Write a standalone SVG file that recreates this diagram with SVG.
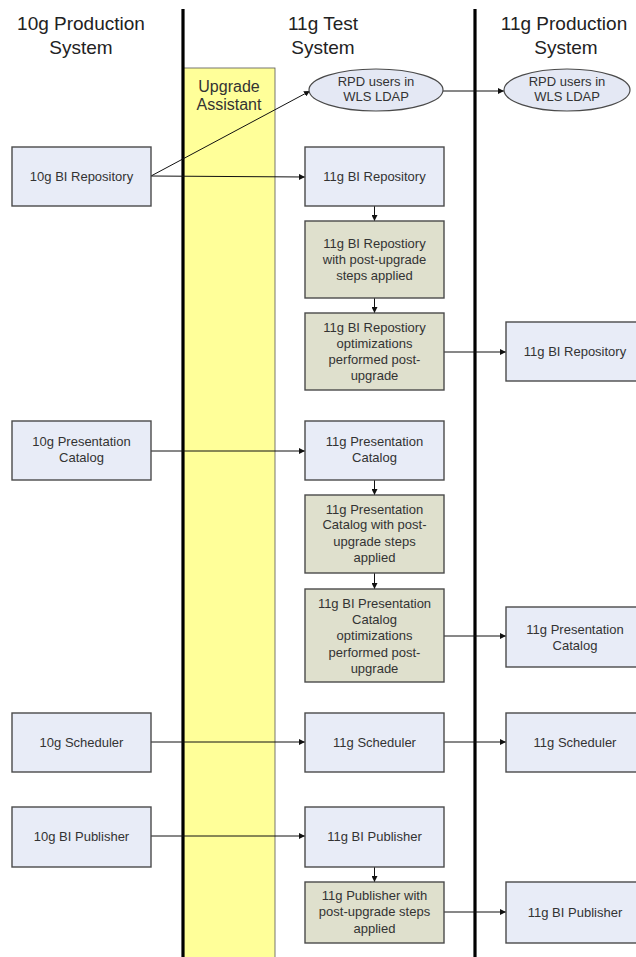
<svg xmlns="http://www.w3.org/2000/svg" width="636" height="957" viewBox="0 0 636 957">
<defs>
<style>
.hdr{font-family:"Liberation Sans",Arial,sans-serif;font-size:19px;fill:#222;text-anchor:middle}
.t{font-family:"Liberation Sans",Arial,sans-serif;font-size:13px;fill:#333;text-anchor:middle}
.ua{font-family:"Liberation Sans",Arial,sans-serif;font-size:16px;fill:#333;text-anchor:middle}
.blue{fill:#E8ECF7;stroke:#4a4a4a;stroke-width:1.4}
.green{fill:#DFE0CD;stroke:#4a4a4a;stroke-width:1.4}
.ell{fill:#E4E8F4;stroke:#4a4a4a;stroke-width:1.2}
.lane{stroke:#000;stroke-width:3.2}
.c{stroke:#111;stroke-width:1;fill:none;marker-end:url(#ah)}
</style>
<marker id="ah" viewBox="0 0 10 10" refX="10" refY="5" markerWidth="6" markerHeight="6" markerUnits="userSpaceOnUse" orient="auto">
<path d="M0,0 L10,5 L0,10 z" fill="#111"/>
</marker>
</defs>
<rect width="636" height="957" fill="#fff"/>

<g id="lanes">
<rect id="upgrade-assistant-band" x="183" y="68" width="92" height="895" fill="#FFFF99" stroke="#555" stroke-width="0.8"/>
<line class="lane" x1="183" y1="9" x2="183" y2="957"/>
<line class="lane" x1="475" y1="9" x2="475" y2="957"/>
</g>

<g id="headers">
<text class="hdr" x="81" y="30">10g Production</text>
<text class="hdr" x="81" y="54">System</text>
<text class="hdr" x="323" y="30">11g Test</text>
<text class="hdr" x="323" y="54">System</text>
<text class="hdr" x="564" y="30">11g Production</text>
<text class="hdr" x="566" y="54">System</text>
<text class="ua" x="229" y="92">Upgrade</text>
<text class="ua" x="229" y="110">Assistant</text>
</g>

<g id="connectors">
<line class="c" x1="151" y1="176" x2="310" y2="91"/>
<line class="c" x1="151" y1="176" x2="305" y2="177"/>
<line class="c" x1="443" y1="91" x2="504" y2="91"/>
<line class="c" x1="374.5" y1="206" x2="374.5" y2="221"/>
<line class="c" x1="374.5" y1="298" x2="374.5" y2="313"/>
<line class="c" x1="444" y1="352" x2="506" y2="352"/>
<line class="c" x1="151" y1="451" x2="305" y2="451"/>
<line class="c" x1="374.5" y1="480" x2="374.5" y2="495"/>
<line class="c" x1="374.5" y1="573" x2="374.5" y2="589"/>
<line class="c" x1="444" y1="636" x2="506" y2="636"/>
<line class="c" x1="151" y1="742" x2="305" y2="742"/>
<line class="c" x1="444" y1="742" x2="506" y2="742"/>
<line class="c" x1="151" y1="836" x2="305" y2="836"/>
<line class="c" x1="374.5" y1="867" x2="374.5" y2="882"/>
<line class="c" x1="444" y1="912" x2="506" y2="912"/>
</g>

<g id="rpd-test">
<ellipse class="ell" cx="376" cy="90" rx="67" ry="21"/>
<text class="t" x="376" y="86">RPD users in</text>
<text class="t" x="376" y="101">WLS LDAP</text>
</g>
<g id="rpd-prod">
<ellipse class="ell" cx="567" cy="90" rx="63" ry="21"/>
<text class="t" x="567" y="86">RPD users in</text>
<text class="t" x="567" y="101">WLS LDAP</text>
</g>

<g id="repo-10g">
<rect class="blue" x="12" y="147" width="139" height="59"/>
<text class="t" x="81.5" y="180.5">10g BI Repository</text>
</g>
<g id="repo-11g-test">
<rect class="blue" x="305" y="147" width="139" height="59"/>
<text class="t" x="374.5" y="180.5">11g BI Repository</text>
</g>
<g id="repo-post">
<rect class="green" x="305" y="221" width="139" height="77"/>
<text class="t" x="374.5" y="247.5">11g BI Repostiory</text>
<text class="t" x="374.5" y="263.5">with post-upgrade</text>
<text class="t" x="374.5" y="279.5">steps applied</text>
</g>
<g id="repo-opt">
<rect class="green" x="305" y="313" width="139" height="77"/>
<text class="t" x="374.5" y="331.5">11g BI Repostiory</text>
<text class="t" x="374.5" y="347.5">optimizations</text>
<text class="t" x="374.5" y="363.5">performed post-</text>
<text class="t" x="374.5" y="379.5">upgrade</text>
</g>
<g id="repo-11g-prod">
<rect class="blue" x="506" y="322" width="140" height="59"/>
<text class="t" x="575" y="356">11g BI Repository</text>
</g>

<g id="cat-10g">
<rect class="blue" x="12" y="421" width="139" height="59"/>
<text class="t" x="81.5" y="446">10g Presentation</text>
<text class="t" x="81.5" y="462">Catalog</text>
</g>
<g id="cat-11g-test">
<rect class="blue" x="305" y="421" width="139" height="59"/>
<text class="t" x="374.5" y="446">11g Presentation</text>
<text class="t" x="374.5" y="462">Catalog</text>
</g>
<g id="cat-post">
<rect class="green" x="305" y="495" width="139" height="78"/>
<text class="t" x="374.5" y="513.5">11g Presentation</text>
<text class="t" x="374.5" y="529">Catalog with post-</text>
<text class="t" x="374.5" y="545.5">upgrade steps</text>
<text class="t" x="374.5" y="561.5">applied</text>
</g>
<g id="cat-opt">
<rect class="green" x="305" y="589" width="139" height="93"/>
<text class="t" x="374.5" y="607.5">11g BI Presentation</text>
<text class="t" x="374.5" y="623.5">Catalog</text>
<text class="t" x="374.5" y="640">optimizations</text>
<text class="t" x="374.5" y="656.5">performed post-</text>
<text class="t" x="374.5" y="672.5">upgrade</text>
</g>
<g id="cat-11g-prod">
<rect class="blue" x="506" y="607" width="140" height="60"/>
<text class="t" x="575" y="633.5">11g Presentation</text>
<text class="t" x="575" y="649.5">Catalog</text>
</g>

<g id="sched-10g">
<rect class="blue" x="12" y="713" width="139" height="59"/>
<text class="t" x="81.5" y="746.5">10g Scheduler</text>
</g>
<g id="sched-11g-test">
<rect class="blue" x="305" y="713" width="139" height="59"/>
<text class="t" x="374.5" y="746.5">11g Scheduler</text>
</g>
<g id="sched-11g-prod">
<rect class="blue" x="506" y="713" width="140" height="59"/>
<text class="t" x="575" y="746.5">11g Scheduler</text>
</g>

<g id="pub-10g">
<rect class="blue" x="12" y="807" width="139" height="60"/>
<text class="t" x="81.5" y="840.5">10g BI Publisher</text>
</g>
<g id="pub-11g-test">
<rect class="blue" x="305" y="807" width="139" height="60"/>
<text class="t" x="374.5" y="840.5">11g BI Publisher</text>
</g>
<g id="pub-post">
<rect class="green" x="305" y="882" width="139" height="61"/>
<text class="t" x="374.5" y="899.5">11g Publisher with</text>
<text class="t" x="374.5" y="916">post-upgrade steps</text>
<text class="t" x="374.5" y="932.5">applied</text>
</g>
<g id="pub-11g-prod">
<rect class="blue" x="506" y="882" width="140" height="61"/>
<text class="t" x="575" y="916.5">11g BI Publisher</text>
</g>
</svg>
